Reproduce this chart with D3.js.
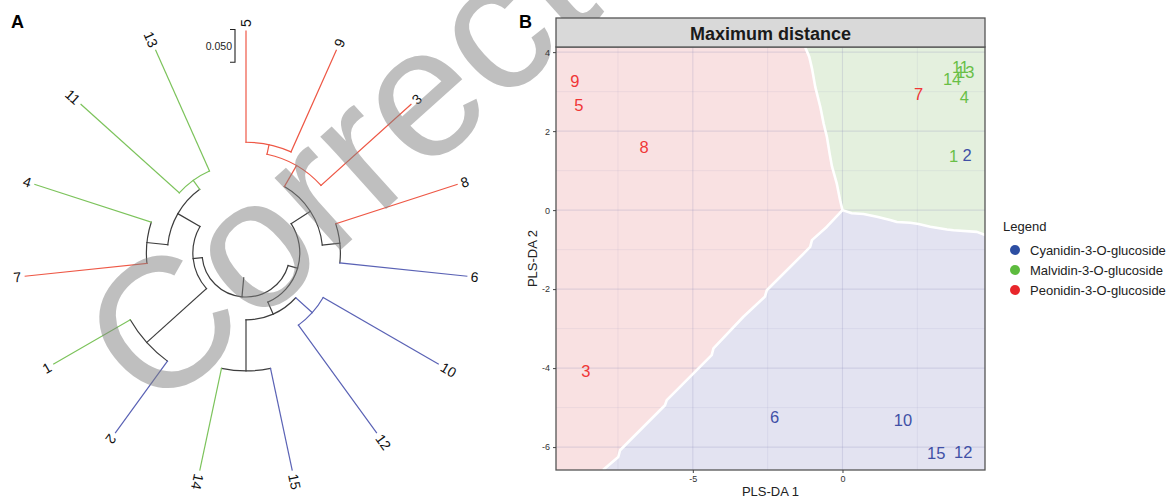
<!DOCTYPE html>
<html><head><meta charset="utf-8">
<script src="https://cdn.jsdelivr.net/npm/d3@7"></script>
<style>
body{margin:0;background:#fff}
svg{display:block}
text{font-family:"Liberation Sans",Arial,Helvetica,sans-serif}
</style>
</head><body>
<svg id="c" width="1166" height="502"></svg>
<script>
// ================= DATA =================
const groupNames = ["Cyanidin-3-O-glucoside", "Malvidin-3-O-glucoside", "Peonidin-3-O-glucoside"];
// samples 1..15
const sampleIds   = [1, 2, 3, 4, 5, 6, 7, 8, 9, 10, 11, 12, 13, 14, 15];
const sampleGroup = [1, 0, 2, 1, 2, 0, 2, 2, 2, 0, 1, 0, 1, 1, 0];
const pls1 = [3.71, 4.16, -8.57, 4.07, -8.81, -2.27, 2.54, -6.63, -8.94, 2.02, 3.94, 4.03, 4.10, 3.66, 3.13];
const pls2 = [1.37, 1.39, -4.07, 2.87, 2.66, -5.25, 2.95, 1.60, 3.27, -5.32, 3.63, -6.12, 3.50, 3.33, -6.16];

// dendrogram (hclust style: negative = leaf id, positive = earlier merge index)
const leafOrder   = [5, 9, 3, 8, 6, 10, 12, 15, 14, 2, 1, 7, 4, 11, 13];
const mergeLeft   = [-5, 1, -8, 2, -10, -15, 5, 4, -2, -7, -11, 10, 9, 8];
const mergeRight  = [-9, -3, -6, 3, -12, -14, 6, 7, -1, -4, -13, 11, 12, 13];
const mergeHeight = [0.170, 0.185, 0.195, 0.222, 0.203, 0.159, 0.237, 0.257, 0.135, 0.187, 0.202, 0.219, 0.258, 0.272];
const rootEdge = 0.029;
const scaleBarValue = 0.05;
const scaleBarLabel = "0.050";

// PLS-DA decision boundaries (data coords)
const bndRG_x = [-1.25, -1.11, -1.02, -0.91, -0.74, -0.63, -0.52, -0.43, -0.35, -0.19, -0.08, 0];
const bndRG_y = [4.13, 3.88, 3.59, 3.12, 2.61, 2.19, 1.85, 1.43, 1.10, 0.67, 0.25, 0];
const bndGB_x = [0, 0.31, 0.70, 1.15, 1.59, 1.82, 2.26, 2.54, 2.93, 3.49, 3.71, 4.49, 4.76];
const bndGB_y = [0, -0.08, -0.10, -0.17, -0.25, -0.30, -0.32, -0.35, -0.42, -0.49, -0.51, -0.55, -0.63];
const bndRB_x = [0, -0.52, -1.02, -1.08, -1.30, -2.53, -2.59, -3.31, -4.31, -4.37, -4.87, -5.87, -5.93, -7.43, -7.49, -8.0];
const bndRB_y = [0, -0.42, -0.76, -0.93, -1.10, -2.03, -2.19, -2.70, -3.50, -3.67, -4.05, -4.81, -4.94, -6.08, -6.25, -6.58];

const xDomain = [-9.57, 4.76];
const yDomain = [-6.58, 4.13];
const xTicks = [-5, 0];
const xMinor = [-7.5, -2.5, 2.5];
const yTicks = [-6, -4, -2, 0, 2, 4];
const yMinor = [-5, -3, -1, 1, 3];

const stripTitle = "Maximum distance";
const xTitle = "PLS-DA 1";
const yTitle = "PLS-DA 2";
const legendTitle = "Legend";
const watermark = "Corrected";

// ================= STYLE =================
const treeColors  = ["#5a62b5", "#7cc35b", "#ee5846"];
const treeMixed   = "#3d3d3d";
const textColors  = ["#4050a6", "#68bf46", "#f03636"];
const dotColors   = ["#2d4ea2", "#5dbb3e", "#e8262b"];
const fillColors  = ["#e3e3f1", "#e4f0de", "#f9e1e2"];

const svg = d3.select("#c");

// ================= PANEL A : circular dendrogram =================
const cx = 246, cy = 253;
const rS = d3.scaleLinear().domain([0.301, 0]).range([25, 222]);
const angStep = 360 / leafOrder.length;
const nodes = {};
leafOrder.forEach((id, i) => {
  nodes["L" + id] = {id, leaf: true, h: 0, ang: i * angStep, grp: sampleGroup[id - 1]};
});
const ref = v => v < 0 ? nodes["L" + (-v)] : nodes["M" + v];
mergeLeft.forEach((a, i) => {
  const A = ref(a), B = ref(mergeRight[i]);
  nodes["M" + (i + 1)] = {h: mergeHeight[i], kids: [A, B], ang: (A.ang + B.ang) / 2,
    grp: (A.grp != null && A.grp === B.grp) ? A.grp : null};
});
const root = nodes["M" + mergeLeft.length];
const pt = (ang, rad) => { const t = ang * Math.PI / 180; return [cx + rad * Math.sin(t), cy - rad * Math.cos(t)]; };
const tCol = g => g == null ? treeMixed : treeColors[g];

const gA = svg.append("g").attr("fill", "none").attr("stroke-width", 1.2).attr("stroke-linecap", "square");
Object.keys(nodes).filter(k => !nodes[k].leaf).forEach(k => {
  const n = nodes[k];
  const rr = rS(n.h);
  const angs = n.kids.map(c => c.ang);
  const a0 = Math.min(...angs), a1 = Math.max(...angs);
  const p = d3.path();
  p.arc(cx, cy, rr, (a0 - 90) * Math.PI / 180, (a1 - 90) * Math.PI / 180, false);
  gA.append("path").attr("d", p.toString()).attr("stroke", tCol(n.grp));
  n.kids.forEach(c => {
    const [x1, y1] = pt(c.ang, rr), [x2, y2] = pt(c.ang, rS(c.h));
    gA.append("line").attr("x1", x1).attr("y1", y1).attr("x2", x2).attr("y2", y2)
      .attr("stroke", tCol(c.grp));
  });
});
{
  const [x1, y1] = pt(root.ang, rS(root.h + rootEdge)), [x2, y2] = pt(root.ang, rS(root.h));
  gA.append("line").attr("x1", x1).attr("y1", y1).attr("x2", x2).attr("y2", y2).attr("stroke", treeMixed);
}
// tip labels
leafOrder.forEach(id => {
  const n = nodes["L" + id];
  const flip = n.ang > 230;
  const [lx, ly] = pt(n.ang, rS(0) + 4);
  svg.append("text").attr("x", lx).attr("y", ly)
    .attr("transform", `rotate(${flip ? n.ang - 270 : n.ang - 90},${lx},${ly})`)
    .attr("text-anchor", flip ? "end" : "start")
    .attr("dominant-baseline", "central")
    .attr("font-size", 14).attr("fill", "#111").text(id);
});
// scale bar
{
  const bx = 235, by0 = 29.5, len = rS(0) - rS(scaleBarValue);
  const g = svg.append("g").attr("stroke", "#222").attr("stroke-width", 1.1).attr("fill", "none");
  g.append("path").attr("d", `M${bx - 5},${by0}H${bx}V${by0 + len}H${bx - 5}`);
  svg.append("text").attr("x", bx - 3).attr("y", by0 + len / 2).attr("dominant-baseline", "central")
    .attr("text-anchor", "end").attr("font-size", 10.5).attr("fill", "#222").text(scaleBarLabel);
}
svg.append("text").attr("x", 11).attr("y", 28).attr("font-size", 18).attr("font-weight", "bold").text("A");
svg.append("text").attr("x", 519).attr("y", 28).attr("font-size", 18).attr("font-weight", "bold").text("B");

// watermark
svg.append("text").attr("transform", "translate(155,417) rotate(-42)")
  .attr("font-size", 185).attr("fill", "#808080").attr("fill-opacity", 0.5).text(watermark);

// ================= PANEL B : PLS-DA =================
const L = 556, R = 985, T = 47, B = 470, ST = 18;
const x = d3.scaleLinear().domain(xDomain).range([L, R]);
const y = d3.scaleLinear().domain(yDomain).range([B, T]);
const zip = (xs, ys) => xs.map((v, i) => [v, ys[i]]);
const rg = zip(bndRG_x, bndRG_y), gb = zip(bndGB_x, bndGB_y), rb = zip(bndRB_x, bndRB_y);
const [x0, x1] = xDomain, [y0, y1] = yDomain;
const polyRed = [[x0, y1], ...rg, ...rb.slice(1), [x0, y0]];
const polyGreen = [[x1, y1], ...gb.slice().reverse(), ...rg.slice().reverse().slice(1)];
const polyBlue = [...gb, [x1, y0], ...rb.slice().reverse().slice(0, -1)];
const line = d3.line().x(d => x(d[0])).y(d => y(d[1]));

svg.append("defs").append("clipPath").attr("id", "clipB")
  .append("rect").attr("x", L).attr("y", T).attr("width", R - L).attr("height", B - T);
const gB = svg.append("g").attr("clip-path", "url(#clipB)");
gB.append("rect").attr("x", L).attr("y", T).attr("width", R - L).attr("height", B - T).attr("fill", "#fff");
[[polyBlue, 0], [polyGreen, 1], [polyRed, 2]].forEach(([p, g]) => {
  gB.append("path").attr("d", line(p) + "Z").attr("fill", fillColors[g]);
});
// grid
xMinor.forEach(v => gB.append("line").attr("x1", x(v)).attr("x2", x(v)).attr("y1", T).attr("y2", B)
  .attr("stroke", "#8a8ab4").attr("stroke-opacity", 0.16).attr("stroke-width", 0.7));
yMinor.forEach(v => gB.append("line").attr("y1", y(v)).attr("y2", y(v)).attr("x1", L).attr("x2", R)
  .attr("stroke", "#8a8ab4").attr("stroke-opacity", 0.16).attr("stroke-width", 0.7));
xTicks.forEach(v => gB.append("line").attr("x1", x(v)).attr("x2", x(v)).attr("y1", T).attr("y2", B)
  .attr("stroke", "#8a8ab4").attr("stroke-opacity", 0.22).attr("stroke-width", 1.1));
yTicks.forEach(v => gB.append("line").attr("y1", y(v)).attr("y2", y(v)).attr("x1", L).attr("x2", R)
  .attr("stroke", "#8a8ab4").attr("stroke-opacity", 0.22).attr("stroke-width", 1.1));
// boundaries
[rg, gb, rb].forEach(b => gB.append("path").attr("d", line(b)).attr("fill", "none")
  .attr("stroke", "#fff").attr("stroke-width", 2.6).attr("stroke-linejoin", "round"));
// sample labels
sampleIds.forEach((id, i) => {
  gB.append("text").attr("x", x(pls1[i])).attr("y", y(pls2[i]))
    .attr("text-anchor", "middle").attr("dominant-baseline", "central")
    .attr("font-size", 16.5).attr("fill", textColors[sampleGroup[i]]).text(id);
});
// border & strip
svg.append("rect").attr("x", L).attr("y", T).attr("width", R - L).attr("height", B - T)
  .attr("fill", "none").attr("stroke", "#555").attr("stroke-width", 1.3);
svg.append("rect").attr("x", L).attr("y", ST).attr("width", R - L).attr("height", T - ST)
  .attr("fill", "#d9d9d9").attr("stroke", "#555").attr("stroke-width", 1.3);
svg.append("text").attr("x", (L + R) / 2).attr("y", (ST + T) / 2 + 1).attr("text-anchor", "middle")
  .attr("dominant-baseline", "central").attr("font-size", 18).attr("font-weight", "bold")
  .attr("fill", "#1a1a1a").text(stripTitle);
// axes
const ax = svg.append("g").attr("transform", `translate(0,${B})`)
  .call(d3.axisBottom(x).tickValues(xTicks).tickSize(3).tickPadding(3).tickFormat(d3.format("d")));
const ay = svg.append("g").attr("transform", `translate(${L},0)`)
  .call(d3.axisLeft(y).tickValues(yTicks).tickSize(3).tickPadding(3).tickFormat(d3.format("d")));
[ax, ay].forEach(a => {
  a.select(".domain").remove();
  a.selectAll("line").attr("stroke", "#444");
  a.selectAll("text").attr("font-size", 9).attr("fill", "#333")
    .style("font-family", '"Liberation Sans",Arial,sans-serif');
});
ay.selectAll("text").text(d => d < 0 ? "-" + Math.abs(d) : d);
ax.selectAll("text").text(d => d < 0 ? "-" + Math.abs(d) : d);
svg.append("text").attr("x", (L + R) / 2).attr("y", 496).attr("text-anchor", "middle")
  .attr("font-size", 13).attr("fill", "#222").text(xTitle);
svg.append("text").attr("transform", `translate(537,${(T + B) / 2}) rotate(-90)`)
  .attr("text-anchor", "middle").attr("font-size", 13).attr("fill", "#222").text(yTitle);
// legend
svg.append("text").attr("x", 1003).attr("y", 231).attr("font-size", 13).attr("fill", "#222").text(legendTitle);
groupNames.forEach((g, i) => {
  const yy = 250 + i * 20;
  svg.append("circle").attr("cx", 1015).attr("cy", yy).attr("r", 5).attr("fill", dotColors[i]);
  svg.append("text").attr("x", 1030).attr("y", yy + 4.5).attr("font-size", 13).attr("fill", "#222").text(g);
});
</script>
</body></html>
